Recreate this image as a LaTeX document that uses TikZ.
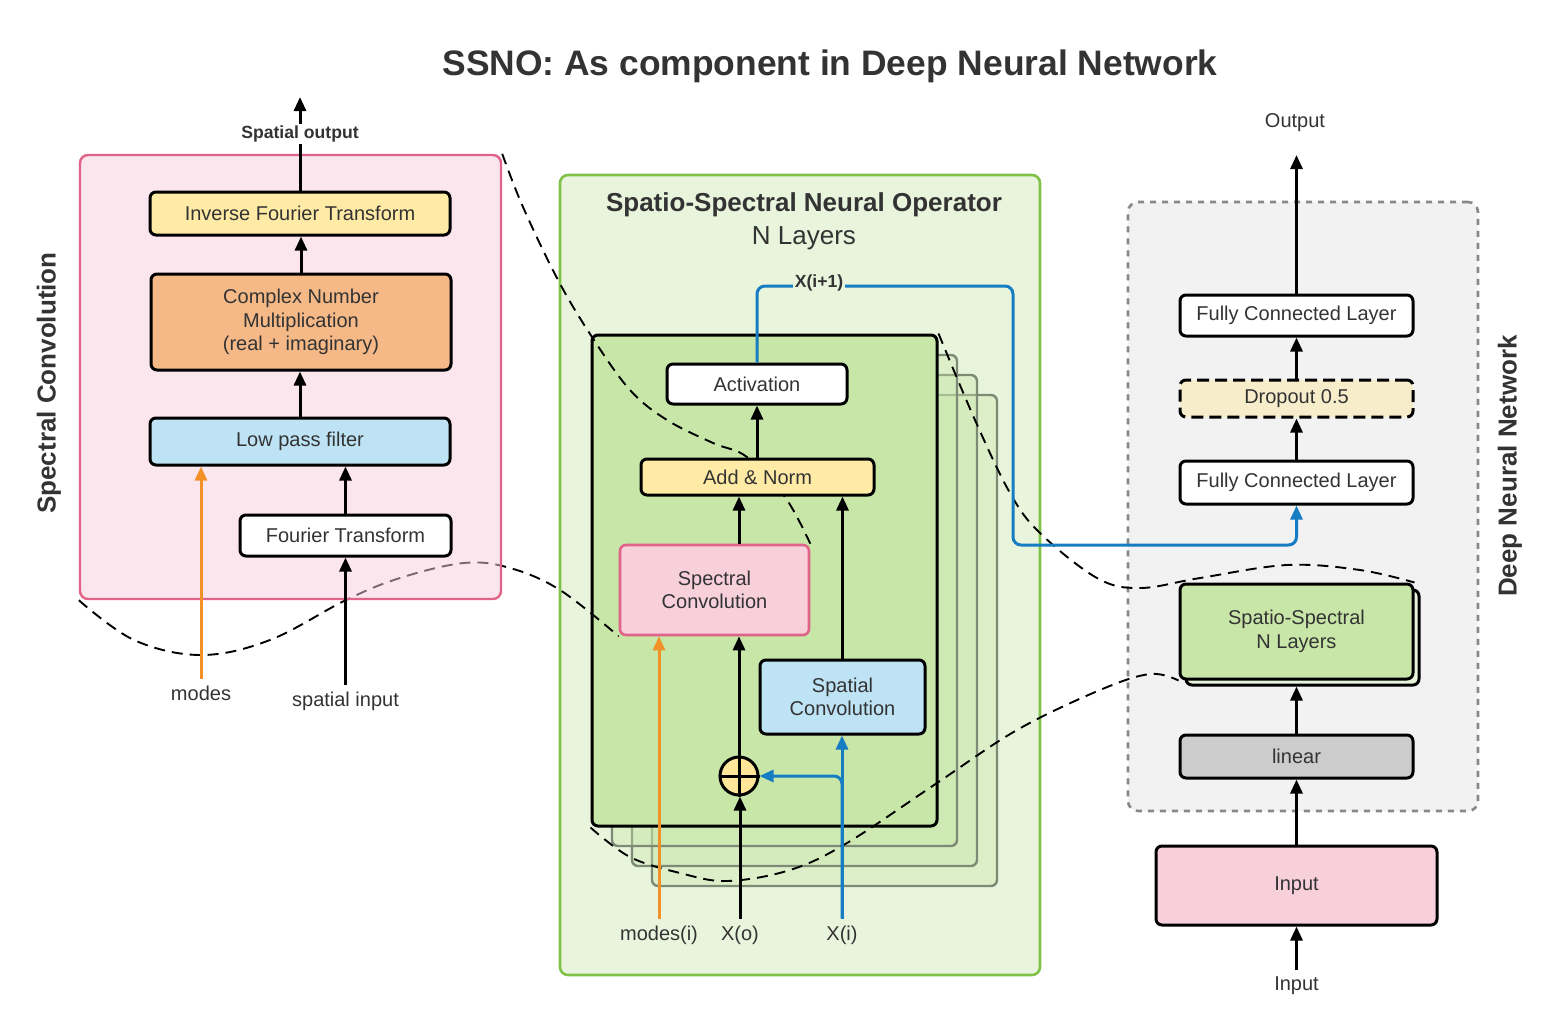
\documentclass[tikz,border=0pt]{standalone}
\usepackage{fontspec}
\setmainfont{Liberation Sans}
\usetikzlibrary{arrows.meta, positioning}
\definecolor{txt}{RGB}{51,51,51}
\definecolor{pinkpanel}{RGB}{249,205,221}
\definecolor{pinkline}{RGB}{224,99,136}
\definecolor{pinkbox}{RGB}{248,208,220}
\definecolor{yellowbox}{RGB}{255,235,165}
\definecolor{orangebox}{RGB}{245,185,135}
\definecolor{bluebox}{RGB}{190,227,245}
\definecolor{greenpanel}{RGB}{232,244,220}
\definecolor{greenline}{RGB}{128,194,72}
\definecolor{greenbox}{RGB}{199,230,168}
\definecolor{stackline}{RGB}{125,138,118}
\definecolor{graypanel}{RGB}{242,242,242}
\definecolor{grayline}{RGB}{136,136,136}
\definecolor{dropbox}{RGB}{247,237,203}
\definecolor{linbox}{RGB}{204,204,204}
\definecolor{plusfill}{RGB}{255,230,153}
\definecolor{flowblue}{RGB}{22,125,195}
\definecolor{modeorange}{RGB}{242,145,40}
\pgfdeclarelayer{back}
\pgfdeclarelayer{zoom}
\pgfsetlayers{back,zoom,main}

\begin{document}
\begin{tikzpicture}[x=0.5pt, y=-0.5pt,
    box/.style={draw, line width=1.5pt, rounded corners=3pt, text=txt, align=center, inner sep=0pt, font=\fontsize{10}{11.8}\selectfont},
    arr/.style={-{Triangle[length=7pt,width=6pt]}, line width=1.5pt},
    bluearr/.style={arr, draw=flowblue, line width=1.5pt, rounded corners=4pt},
    modearr/.style={arr, draw=modeorange, line width=1.5pt},
    lbl/.style={text=txt, font=\fontsize{10}{12}\selectfont},
    smallbold/.style={text=txt, inner sep=1pt, font=\fontsize{8.8}{10}\selectfont\bfseries},
    heading/.style={text=txt, font=\fontsize{13}{15}\selectfont\bfseries},
    zoomline/.style={dash pattern=on 5.5pt off 3.5pt, line width=0.95pt},
    stackbox/.style={draw=stackline, line width=1.2pt, fill=greenbox, fill opacity=0.35, rounded corners=3pt, minimum width=172.5pt, minimum height=245.5pt}]
    \useasboundingbox (0,0) rectangle (1560,1014);

    \node[text=txt, font=\fontsize{17.7}{20}\selectfont\bfseries] (title) at (830,66) {SSNO: As component in Deep Neural Network};

    \begin{pgfonlayer}{back}
        \node[draw=greenline, line width=1.3pt, fill=greenpanel, rounded corners=4pt, minimum width=240pt, minimum height=400pt] (ssno) at (800,575) {};
        \foreach \k in {3,2,1}
            \node[stackbox] at ({764.5+20*\k},{580.5+20*\k}) {};
        \node[draw, line width=1.5pt, fill=greenbox, rounded corners=3pt, minimum width=172.5pt, minimum height=245.5pt] (layer) at (764.5,580.5) {};
        \node[draw=grayline, line width=1.3pt, dash pattern=on 3pt off 3pt, fill=graypanel, rounded corners=5pt, minimum width=175pt, minimum height=304.5pt] (dnn) at (1303,506.5) {};
    \end{pgfonlayer}

    \node[draw=pinkline, line width=1.2pt, fill=pinkpanel, fill opacity=0.5, draw opacity=1, rounded corners=4pt, minimum width=210.5pt, minimum height=222pt] (specpanel) at (290.5,377) {};
    \node[heading, rotate=90] (sclabel) at (49,383) {Spectral Convolution};

    \node[box, fill=yellowbox, minimum width=150pt, minimum height=21.5pt] (ift) at (300,213.5) {Inverse Fourier Transform};
    \node[box, fill=orangebox, minimum width=150pt, minimum height=48pt] (cnm) at (301,322) {Complex Number\\Multiplication\\(real + imaginary)};
    \node[box, fill=bluebox, minimum width=150pt, minimum height=23.5pt] (lpf) at (300,441.5) {Low pass filter};
    \node[box, fill=white, minimum width=105.5pt, minimum height=20.5pt] (ft) at (345.5,535.5) {Fourier Transform};
    \node[lbl] (modes) at (201,693) {modes};
    \node[lbl] (sin) at (345.5,701) {spatial input};
    \coordinate (souttip) at (300,97);

    \draw[arr] (sin.north) -- (ft.south);
    \draw[arr] (ft.north) -- (ft.north |- lpf.south);
    \draw[modearr] (modes.north) -- (modes.north |- lpf.south);
    \draw[arr] (lpf.north) -- (lpf.north |- cnm.south);
    \draw[arr] (cnm.north) -- (cnm.north |- ift.south);
    \draw[arr] (ift.north) -- (souttip);
    \node[smallbold, fill=white] (sout) at (300,134) {Spatial output};

    \node[heading] (ssnotitle) at (804,205) {Spatio-Spectral Neural Operator};
    \node[text=txt, font=\fontsize{13}{15}\selectfont] (ssnosub) at (804,238) {N Layers};
    \node[box, fill=white, minimum width=90pt, minimum height=20pt] (act) at (757,384) {Activation};
    \node[box, fill=yellowbox, minimum width=116.5pt, minimum height=18pt] (addnorm) at (757.5,477) {Add \& Norm};
    \node[box, draw=pinkline, line width=1.3pt, fill=pinkbox, minimum width=94.5pt, minimum height=45pt] (spec) at (714.5,590) {Spectral\\Convolution};
    \node[box, fill=bluebox, minimum width=82.5pt, minimum height=37pt] (spat) at (842.5,697) {Spatial\\Convolution};
    \node[draw, line width=1.5pt, fill=plusfill, circle, minimum size=19pt, inner sep=0pt] (plus) at (739,776) {};
    \draw[line width=1.5pt] (plus.north) -- (plus.south) (plus.west) -- (plus.east);
    \node[lbl] (modesi) at (659,935) {modes(i)};
    \node[lbl] (xo) at (740,935) {X(o)};
    \node[lbl] (xi) at (842,935) {X(i)};
    \coordinate (xtop) at (1013,286);
    \coordinate (xbot) at (1013,545);

    \draw[arr] (xo.north) -- (xo.north |- plus.south);
    \draw[arr] (plus.north) -- (plus.north |- spec.south);
    \draw[arr] (plus.north |- spec.north) -- (plus.north |- addnorm.south);
    \draw[arr] (spat.north) -- (spat.north |- addnorm.south);
    \draw[arr] (act.south |- addnorm.north) -- (act.south);
    \draw[modearr] (modesi.north) -- (modesi.north |- spec.south);
    \draw[bluearr] (xi.north) -- (xi.north |- spat.south);
    \draw[bluearr] (xi.north) |- (plus.east);

    \node[box, fill=white, minimum width=116.5pt, minimum height=20.5pt] (fc2) at (1296.5,315.5) {Fully Connected Layer};
    \node[box, fill=dropbox, dash pattern=on 6pt off 3pt, minimum width=116.5pt, minimum height=18.5pt] (drop) at (1296.5,398.5) {Dropout 0.5};
    \node[box, fill=white, minimum width=116.5pt, minimum height=21.5pt] (fc1) at (1296.5,482.5) {Fully Connected Layer};
    \node[box, fill=greenpanel, minimum width=116.5pt, minimum height=47.5pt] (ssback) at (1302.5,637.5) {};
    \node[box, fill=greenbox, minimum width=116.5pt, minimum height=47.5pt] (ss) at (1296.5,631.5) {Spatio-Spectral\\N Layers};
    \node[box, fill=linbox, minimum width=116.5pt, minimum height=21.5pt] (lin) at (1296.5,756.5) {linear};
    \node[box, fill=pinkbox, minimum width=140.5pt, minimum height=39.5pt] (inp) at (1296.5,885.5) {Input};
    \node[heading, rotate=90] (dnnlabel) at (1510,466) {Deep Neural Network};
    \node[lbl] (inlab) at (1296.5,986) {Input};
    \node[lbl] (outlab) at (1295,123) {Output};
    \coordinate (outtip) at (1296.5,155);

    \draw[arr] (inlab.north) -- (inp.south);
    \draw[arr] (inp.north) -- (lin.south);
    \draw[arr] (lin.north) -- (lin.north |- ssback.south);
    \draw[arr] (fc1.north) -- (drop.south);
    \draw[arr] (drop.north) -- (fc2.south);
    \draw[arr] (fc2.north) -- (outtip);
    \draw[bluearr] (act.north) |- (xtop) -- (xbot) -| (fc1.south);
    \node[smallbold, fill=greenpanel] (xnext) at (819,283) {X(i+1)};

    \begin{pgfonlayer}{zoom}
        \draw[zoomline] plot[smooth, tension=0.6] coordinates {(specpanel.north east) (523,207) (558,280) (592,337) (630,390) (667,420) (713,443) (747,457) (785,497) (spec.north east)};
        \draw[zoomline] plot[smooth, tension=0.6] coordinates {(specpanel.south west) (134,640) (201,655) (270,640) (346,600) (400,578) (464,563) (510,568) (560,590) (spec.south west)};
        \draw[zoomline] plot[smooth, tension=0.6] coordinates {(layer.north east) (975,420) (1010,493) (1040,533) (1097,578) (1140,588) (1200,578) (1287,565) (1360,570) (ss.north east)};
        \draw[zoomline] plot[smooth, tension=0.6] coordinates {(layer.south west) (630,857) (680,873) (727,881) (790,870) (847,843) (937,783) (1017,730) (1100,690) (1150,674) (ss.south west)};
    \end{pgfonlayer}
\end{tikzpicture}
\end{document}
